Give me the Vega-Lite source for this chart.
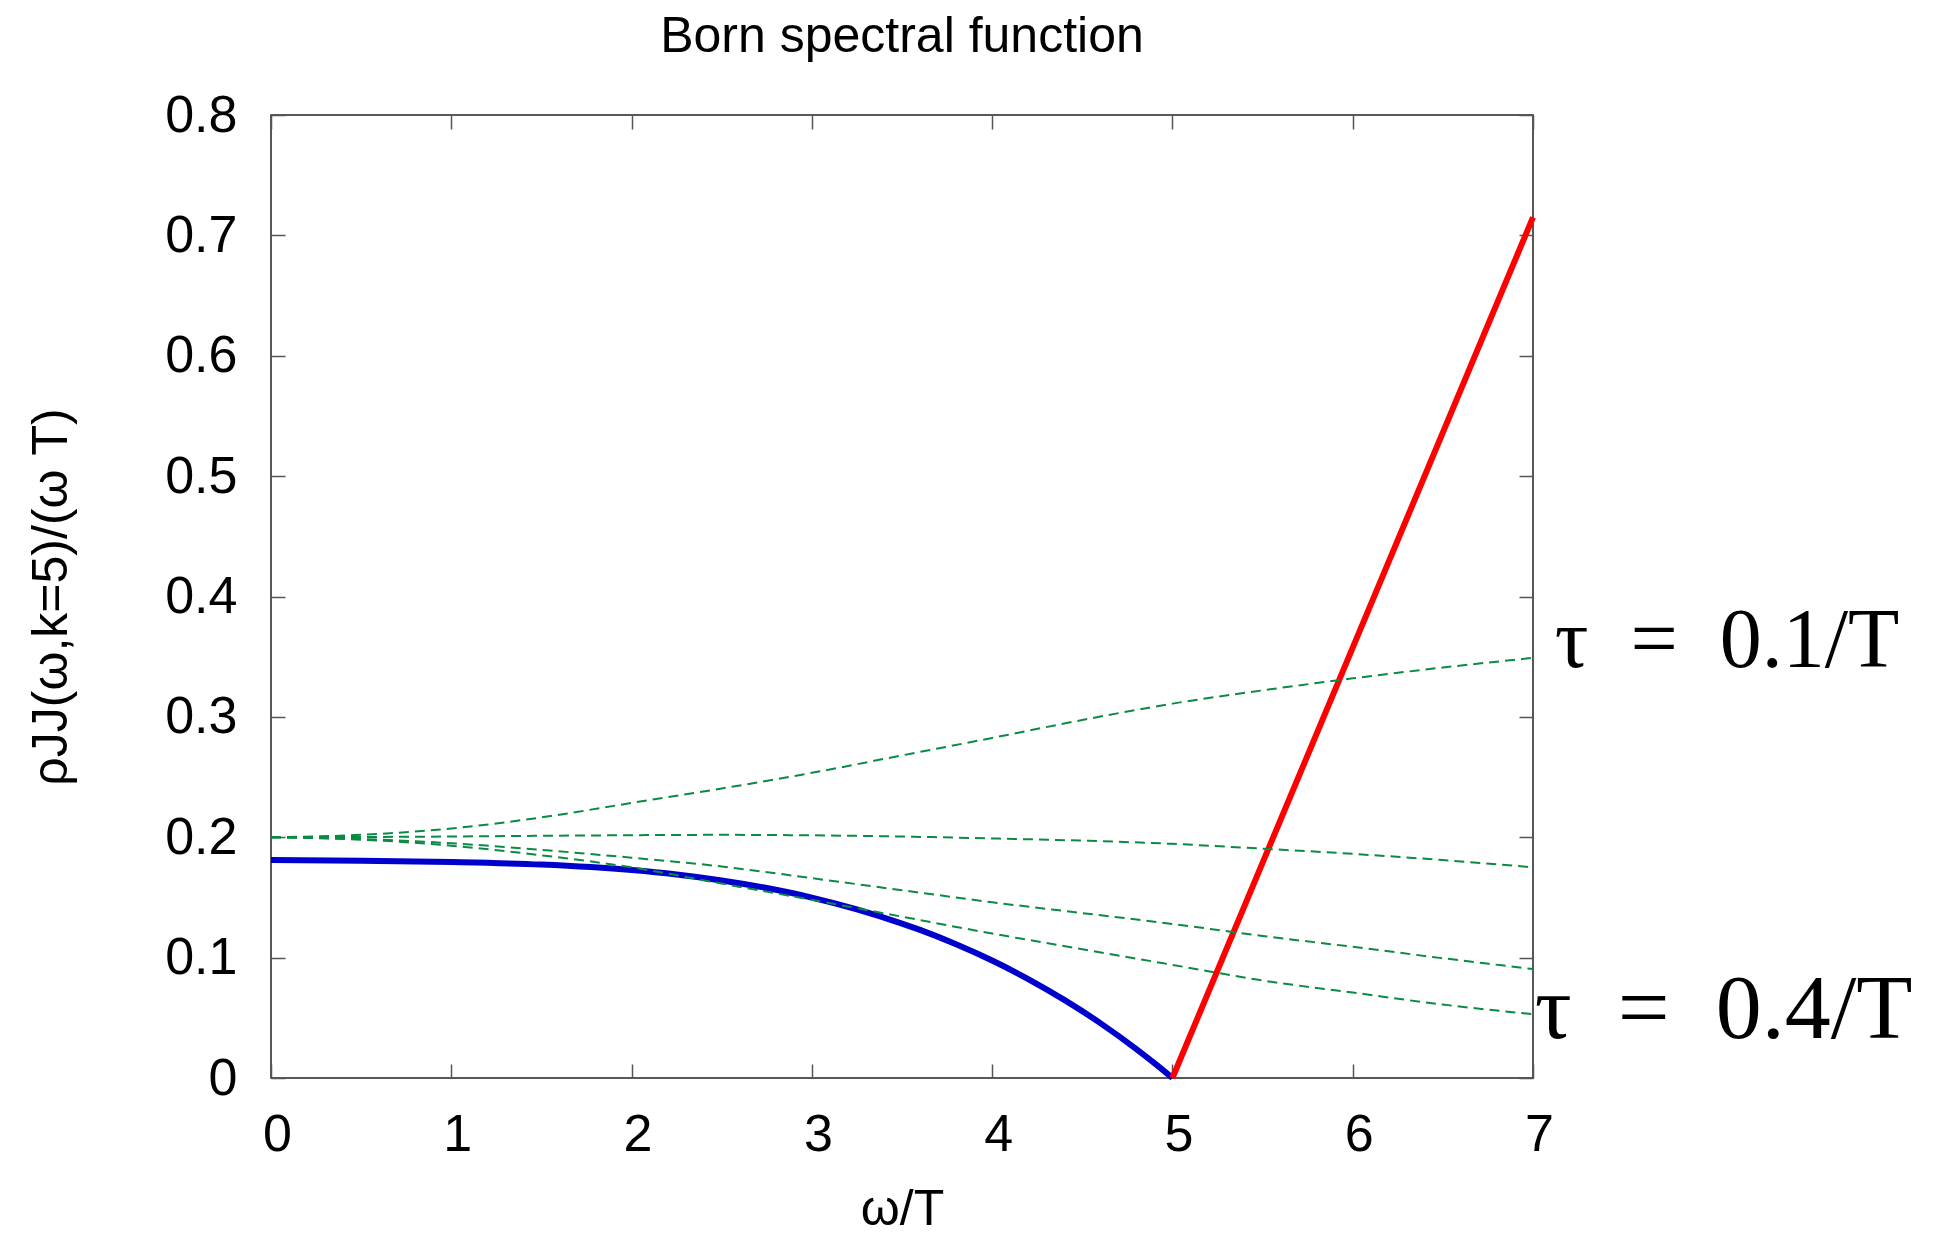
{
  "$schema": "https://vega.github.io/schema/vega-lite/v6.json",
  "width": 1262,
  "height": 963,
  "autosize": {"type": "none"},
  "padding": {"left": 271, "top": 115, "right": 424, "bottom": 156},
  "background": "white",
  "title": {"text": "Born spectral function", "fontSize": 50, "font": "Liberation Sans", "fontWeight": "normal", "anchor": "middle", "frame": "group", "offset": 27, "color": "black"},
  "config": {
    "view": {"stroke": "#222", "strokeWidth": 1.5},
    "axis": {"domain": false, "grid": false, "tickSize": -14, "tickColor": "#555", "tickWidth": 1.5, "labelFont": "Liberation Sans", "labelFontSize": 52, "labelColor": "black", "titleFont": "Liberation Sans", "titleFontSize": 50, "titleFontWeight": "normal", "titleColor": "black", "labelFlush": false}
  },
  "datasets": {
    "blue": [
      {"w": 0, "r": 0.181}, {"w": 0.5, "r": 0.1805}, {"w": 1, "r": 0.1794}, {"w": 1.5, "r": 0.1773},
      {"w": 2, "r": 0.1727}, {"w": 2.25, "r": 0.169}, {"w": 2.5, "r": 0.1641}, {"w": 2.75, "r": 0.1578},
      {"w": 3, "r": 0.1499}, {"w": 3.25, "r": 0.1401}, {"w": 3.5, "r": 0.1283}, {"w": 3.6, "r": 0.123},
      {"w": 3.8, "r": 0.1111}, {"w": 4, "r": 0.0976}, {"w": 4.2, "r": 0.0822}, {"w": 4.4, "r": 0.0649},
      {"w": 4.6, "r": 0.0456}, {"w": 4.8, "r": 0.024}, {"w": 4.9, "r": 0.0123}, {"w": 5, "r": 0}
    ],
    "red": [
      {"w": 5, "r": 0}, {"w": 6, "r": 0.3575}, {"w": 7, "r": 0.715}
    ],
    "green": [
      {"s": "A", "w": 0, "r": 0.2}, {"s": "A", "w": 0.5, "r": 0.202}, {"s": "A", "w": 1, "r": 0.2073},
      {"s": "A", "w": 1.5, "r": 0.2165}, {"s": "A", "w": 2, "r": 0.2285}, {"s": "A", "w": 2.5, "r": 0.2405},
      {"s": "A", "w": 3, "r": 0.2535}, {"s": "A", "w": 3.5, "r": 0.268}, {"s": "A", "w": 4, "r": 0.2825},
      {"s": "A", "w": 4.5, "r": 0.2974}, {"s": "A", "w": 5, "r": 0.311}, {"s": "A", "w": 5.5, "r": 0.322},
      {"s": "A", "w": 6, "r": 0.332}, {"s": "A", "w": 6.5, "r": 0.341}, {"s": "A", "w": 7, "r": 0.349},
      {"s": "B", "w": 0, "r": 0.2}, {"s": "B", "w": 0.5, "r": 0.2002}, {"s": "B", "w": 1, "r": 0.2006},
      {"s": "B", "w": 1.5, "r": 0.2012}, {"s": "B", "w": 2, "r": 0.2017}, {"s": "B", "w": 2.5, "r": 0.202},
      {"s": "B", "w": 3, "r": 0.2016}, {"s": "B", "w": 3.5, "r": 0.2006}, {"s": "B", "w": 4, "r": 0.199},
      {"s": "B", "w": 4.5, "r": 0.1972}, {"s": "B", "w": 5, "r": 0.1945}, {"s": "B", "w": 5.5, "r": 0.1905},
      {"s": "B", "w": 6, "r": 0.1862}, {"s": "B", "w": 6.5, "r": 0.181}, {"s": "B", "w": 7, "r": 0.175},
      {"s": "C", "w": 0, "r": 0.2}, {"s": "C", "w": 0.5, "r": 0.1985}, {"s": "C", "w": 1, "r": 0.195},
      {"s": "C", "w": 1.5, "r": 0.1895}, {"s": "C", "w": 2, "r": 0.183}, {"s": "C", "w": 2.5, "r": 0.1757},
      {"s": "C", "w": 3, "r": 0.166}, {"s": "C", "w": 3.5, "r": 0.156}, {"s": "C", "w": 4, "r": 0.146},
      {"s": "C", "w": 4.5, "r": 0.137}, {"s": "C", "w": 5, "r": 0.128}, {"s": "C", "w": 5.5, "r": 0.118},
      {"s": "C", "w": 6, "r": 0.109}, {"s": "C", "w": 6.5, "r": 0.0995}, {"s": "C", "w": 7, "r": 0.0905},
      {"s": "D", "w": 0, "r": 0.2}, {"s": "D", "w": 0.5, "r": 0.198}, {"s": "D", "w": 1, "r": 0.193},
      {"s": "D", "w": 1.5, "r": 0.185}, {"s": "D", "w": 2, "r": 0.175}, {"s": "D", "w": 2.5, "r": 0.1615},
      {"s": "D", "w": 3, "r": 0.148}, {"s": "D", "w": 3.5, "r": 0.134}, {"s": "D", "w": 4, "r": 0.120},
      {"s": "D", "w": 4.5, "r": 0.107}, {"s": "D", "w": 5, "r": 0.094}, {"s": "D", "w": 5.5, "r": 0.081},
      {"s": "D", "w": 6, "r": 0.071}, {"s": "D", "w": 6.5, "r": 0.061}, {"s": "D", "w": 7, "r": 0.053}
    ],
    "labels": [
      {"w": 7.12, "r": 0.362, "t": "τ\u2002=\u20020.1/T", "size": 84},
      {"w": 7.01, "r": 0.0565, "t": "τ\u2002=\u20020.4/T", "size": 92}
    ]
  },
  "layer": [
    {
      "data": {"name": "blue"},
      "mark": {"type": "line", "color": "#0000cc", "strokeWidth": 6, "interpolate": "monotone"},
      "encoding": {
        "x": {"field": "w", "type": "quantitative", "scale": {"domain": [0, 7], "nice": false},
              "axis": {"orient": "bottom", "values": [0, 1, 2, 3, 4, 5, 6, 7], "format": "d", "title": "ω/T", "labelPadding": 45, "labelOffset": 6, "titlePadding": 24}},
        "y": {"field": "r", "type": "quantitative", "scale": {"domain": [0, 0.8], "nice": false},
              "axis": {"orient": "left", "values": [0, 0.1, 0.2, 0.3, 0.4, 0.5, 0.6, 0.7, 0.8], "format": ".1~f", "title": "ρJJ(ω,k=5)/(ω T)", "labelPadding": 48, "titlePadding": 88}}
      }
    },
    {
      "data": {"name": "red"},
      "mark": {"type": "line", "color": "#ff0000", "strokeWidth": 6},
      "encoding": {
        "x": {"field": "w", "type": "quantitative", "axis": {"orient": "top", "values": [0, 1, 2, 3, 4, 5, 6, 7], "labels": false, "title": null}},
        "y": {"field": "r", "type": "quantitative", "axis": {"orient": "right", "values": [0, 0.1, 0.2, 0.3, 0.4, 0.5, 0.6, 0.7, 0.8], "labels": false, "title": null}}
      }
    },
    {
      "data": {"name": "green"},
      "mark": {"type": "line", "color": "#0a8a45", "strokeWidth": 2, "strokeDash": [10, 6], "interpolate": "monotone"},
      "encoding": {
        "x": {"field": "w", "type": "quantitative", "axis": null},
        "y": {"field": "r", "type": "quantitative", "axis": null},
        "detail": {"field": "s", "type": "nominal"}
      }
    },
    {
      "data": {"name": "labels"},
      "mark": {"type": "text", "font": "Liberation Serif", "align": "left", "baseline": "middle", "color": "black"},
      "encoding": {
        "x": {"field": "w", "type": "quantitative", "axis": null},
        "y": {"field": "r", "type": "quantitative", "axis": null},
        "text": {"field": "t"},
        "size": {"field": "size", "type": "quantitative", "scale": null, "legend": null}
      }
    }
  ],
  "resolve": {"axis": {"x": "independent", "y": "independent"}}
}
